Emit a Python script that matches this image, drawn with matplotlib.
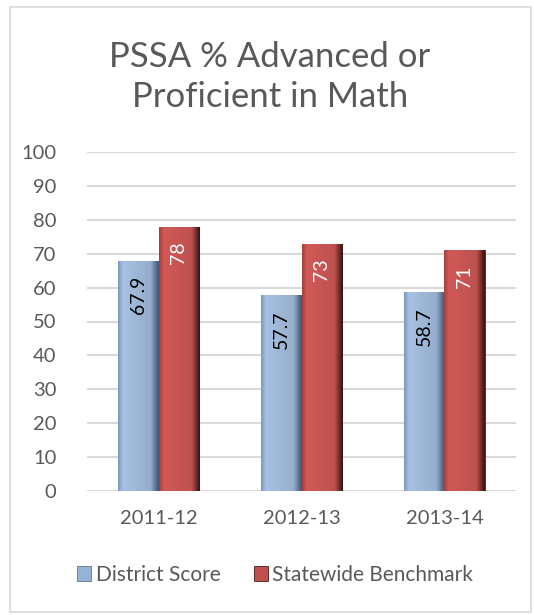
import matplotlib.pyplot as plt
from matplotlib.patches import Rectangle
from matplotlib.colors import to_rgb
import numpy as np

plt.rcParams['font.family'] = ['Lato', 'DejaVu Sans']

years = ['2011-12', '2012-13', '2013-14']
district = [67.9, 57.7, 58.7]
statewide = [78, 73, 71]
series_names = ['District Score', 'Statewide Benchmark']

blue = '#95B3D7'
red = '#C0504D'
txt = '#595959'

# left edge, centre, right edge shades for the bevel look
blue_shades = ['#7E99BE', '#A6C1E3', '#3E536E']
red_shades = ['#A4403D', '#D25A57', '#3A1311']


def shade(colors, n=60):
    c0, c1, c2 = [np.array(to_rgb(c)) for c in colors]
    t = np.linspace(0, 1, n)
    out = []
    for v in t:
        if v < 0.12:
            out.append(c0 + (c1 - c0) * v / 0.12)
        elif v < 0.8:
            out.append(c1 * (1 - 0.1 * (v - 0.12) / 0.68))
        else:
            a = (v - 0.8) / 0.2
            out.append(c1 * 0.9 * (1 - a) + c2 * a)
    return np.clip(np.array(out)[None, :, :], 0, 1)


fig = plt.figure(figsize=(5.34, 6.15), dpi=100)
fig.patches.append(Rectangle((10/534, 3/615), 521/534, 605/615, transform=fig.transFigure,
                             fill=False, edgecolor='#D9D9D9', linewidth=1.2))
ax = fig.add_axes([87/534, 124/615, 429/534, 339/615])

x = np.arange(len(years))
w = 0.286
b1 = ax.bar(x - w/2, district, w, color=blue, edgecolor='#5E7493', linewidth=0.6,
            label=series_names[0], zorder=3)
b2 = ax.bar(x + w/2, statewide, w, color=red, edgecolor='#4A1A19', linewidth=0.6,
            label=series_names[1], zorder=3)

for bars, shades in [(b1, blue_shades), (b2, red_shades)]:
    img = shade(shades)
    for r in bars:
        x0, h = r.get_x(), r.get_height()
        im = ax.imshow(img, extent=(x0, x0 + r.get_width(), 0, h), aspect='auto',
                       zorder=3.5, interpolation='bilinear')
        im.set_clip_path(r)

for bars, vals, c in [(b1, district, 'black'), (b2, statewide, 'white')]:
    for r, v in zip(bars, vals):
        ax.annotate(f'{v:g}', (r.get_x() + r.get_width()/2, v), xytext=(0, -11),
                    textcoords='offset points', rotation=90, ha='center', va='top',
                    fontsize=14, color=c, zorder=4)

ax.set_xlim(-0.5, 2.5)
ax.set_ylim(0, 100)
ax.set_yticks(range(0, 101, 10))
ax.set_xticks(x)
ax.set_xticklabels(years)
ax.yaxis.grid(True, color='#D9D9D9', linewidth=1.5, zorder=0)
ax.set_axisbelow(True)
for s in ax.spines.values():
    s.set_visible(False)
ax.tick_params(length=0, labelsize=14.5, labelcolor=txt)
ax.tick_params(axis='y', pad=22)
ax.tick_params(axis='x', pad=14)

fig.text(0.505, 0.875, 'PSSA % Advanced or\nProficient in Math', ha='center', va='center',
         fontsize=25, color=txt, linespacing=1.3)

fig.legend(handles=[b1, b2], loc='center', bbox_to_anchor=(0.515, 0.065), ncol=2,
           frameon=False, fontsize=15, handlelength=0.7, handleheight=0.7,
           handletextpad=0.2, columnspacing=1.6, labelcolor=txt)

fig.savefig('out.png', dpi=100)
